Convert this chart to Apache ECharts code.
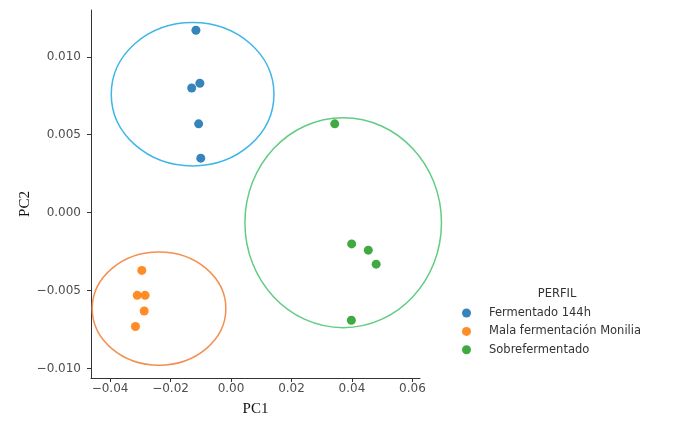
<!DOCTYPE html>
<html>
<head>
<meta charset="utf-8">
<script src="https://cdn.jsdelivr.net/npm/echarts@6/dist/echarts.min.js"></script>
<style>
html,body{margin:0;padding:0;background:#fff;}
#chart{width:683px;height:422px;}
</style>
</head>
<body>
<div id="chart"></div>
<script>
// Data: [PC1, PC2]
const fermentado144h = [[-0.0116, 0.0117], [-0.0103, 0.0083], [-0.0130, 0.0080], [-0.0107, 0.0057], [-0.0100, 0.0035]];
const malaFermentacion = [[-0.0295, -0.0037], [-0.0310, -0.0053], [-0.0284, -0.0053], [-0.0287, -0.0063], [-0.0316, -0.0073]];
const sobrefermentado = [[0.0343, 0.0057], [0.0399, -0.0020], [0.0454, -0.0024], [0.0480, -0.0033], [0.0398, -0.0069]];
// Ellipses: [centerPC1, centerPC2, radiusPC1, radiusPC2]
const ellipseFermentado = [[-0.0127, 0.0076, 0.0269, 0.0046]];
const ellipseMala = [[-0.0238, -0.00615, 0.0221, 0.00363]];
const ellipseSobre = [[0.0371, -0.00064, 0.0325, 0.00673]];
const seriesNames = ['Fermentado 144h', 'Mala fermentación Monilia', 'Sobrefermentado'];
const xTicks = [-0.04, -0.02, 0, 0.02, 0.04, 0.06];
const yTicks = [-0.01, -0.005, 0, 0.005, 0.01];

const tickFont = 'DejaVu Sans';
const fmt = (v, d) => v.toFixed(d).replace('-', '\u2212');

function ellipseSeries(name, data, color) {
  return {
    type: 'custom',
    name: name,
    data: data,
    z: 1,
    silent: true,
    clip: false,
    renderItem: function (params, api) {
      const c = api.coord([api.value(0), api.value(1)]);
      const s = api.size([api.value(2), api.value(3)]);
      return {
        type: 'ellipse',
        shape: { cx: c[0], cy: c[1], rx: s[0], ry: s[1] },
        style: { fill: 'none', stroke: color, lineWidth: 1.5 }
      };
    }
  };
}

const chart = echarts.init(document.getElementById('chart'), null, { renderer: 'canvas' });
chart.setOption({
  animation: false,
  backgroundColor: '#fff',
  grid: { left: 91, top: 10, right: 263, bottom: 40, containLabel: false },
  title: {
    text: 'PERFIL',
    left: 557, top: 288, textAlign: 'center', padding: 0,
    textStyle: { fontFamily: tickFont, fontSize: 11.5, fontWeight: 'normal', color: '#333' }
  },
  graphic: [{
    type: 'text',
    x: 25, y: 204, rotation: Math.PI / 2,
    style: { text: 'PC2', fontFamily: 'Liberation Serif', fontSize: 15, fill: '#111',
      textAlign: 'center', textVerticalAlign: 'middle' }
  }],
  legend: {
    data: seriesNames,
    orient: 'vertical',
    left: 462, top: 306, padding: 0,
    itemWidth: 9, itemHeight: 9, itemGap: 4.4,
    icon: 'circle',
    textStyle: { fontFamily: tickFont, fontSize: 11.5, color: '#333', lineHeight: 14, padding: [0, 0, 0, 13] }
  },
  xAxis: {
    type: 'value',
    min: -0.0463, max: 0.0625,
    name: 'PC1', nameLocation: 'middle', nameGap: 24,
    nameTextStyle: { fontFamily: 'Liberation Serif', fontSize: 15, color: '#111' },
    splitLine: { show: false },
    axisLine: { show: true, onZero: false, lineStyle: { color: '#333', width: 1 } },
    axisTick: { show: true, length: 4, customValues: xTicks, lineStyle: { color: '#333' } },
    axisLabel: { customValues: xTicks, margin: 5, fontFamily: tickFont, fontSize: 12, color: '#4d4d4d',
      formatter: v => fmt(v, 2) }
  },
  yAxis: {
    type: 'value',
    min: -0.0106, max: 0.0130,
    splitLine: { show: false },
    axisLine: { show: true, onZero: false, lineStyle: { color: '#333', width: 1 } },
    axisTick: { show: true, length: 4, customValues: yTicks, lineStyle: { color: '#333' } },
    axisLabel: { customValues: yTicks, margin: 10, fontFamily: tickFont, fontSize: 12, color: '#4d4d4d',
      formatter: v => fmt(v, 3) }
  },
  series: [
    ellipseSeries('Elipse Fermentado 144h', ellipseFermentado, '#3fb6ea'),
    ellipseSeries('Elipse Mala fermentación Monilia', ellipseMala, '#f48f4f'),
    ellipseSeries('Elipse Sobrefermentado', ellipseSobre, '#62cd82'),
    { type: 'scatter', name: seriesNames[0], data: fermentado144h, symbolSize: 9, z: 3,
      itemStyle: { color: '#1f77b4', opacity: 0.9 } },
    { type: 'scatter', name: seriesNames[1], data: malaFermentacion, symbolSize: 9, z: 3,
      itemStyle: { color: '#ff7f0e', opacity: 0.9 } },
    { type: 'scatter', name: seriesNames[2], data: sobrefermentado, symbolSize: 9, z: 3,
      itemStyle: { color: '#2ca02c', opacity: 0.9 } }
  ]
});
</script>
</body>
</html>
